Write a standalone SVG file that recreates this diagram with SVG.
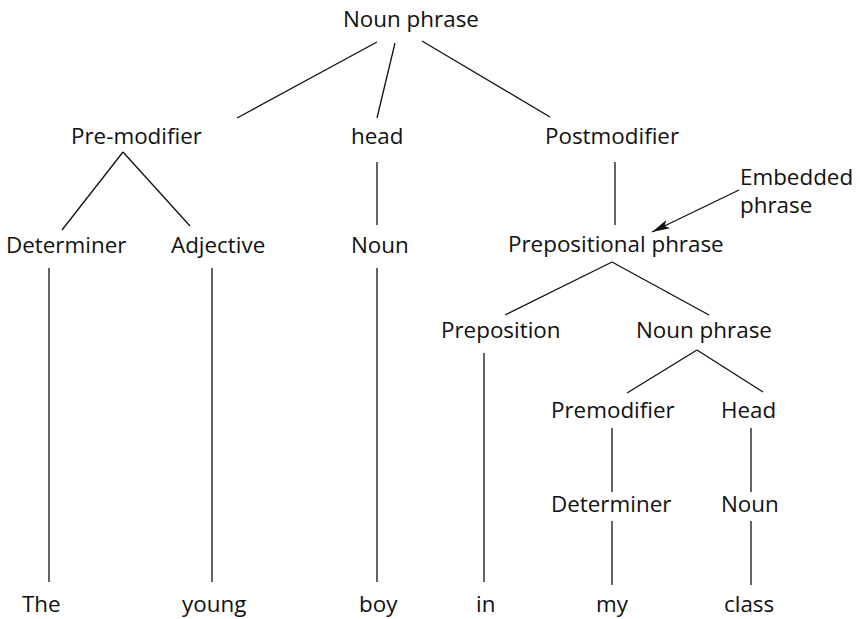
<svg xmlns="http://www.w3.org/2000/svg" width="860" height="619" viewBox="0 0 860 619">
  <style>
    text { font-family: "Open Sans", "Noto Sans", sans-serif; font-size: 22.4px; fill: #111; }
    .edge { stroke: #111; stroke-width: 1.3; fill: none; }
  </style>
  <defs>
    <marker id="arrowhead" viewBox="0 0 18 9" refX="18" refY="4.5" markerWidth="18" markerHeight="9" markerUnits="userSpaceOnUse" orient="auto">
      <path d="M0,0 L18,4.5 L0,9 L4,4.5 Z" fill="#111"/>
    </marker>
  </defs>
  <rect width="860" height="619" fill="#fff"/>

  <g id="connectors">
    <line class="edge" x1="377" y1="42" x2="237" y2="118"/>
    <line class="edge" x1="395" y1="43" x2="377" y2="118"/>
    <line class="edge" x1="422" y1="41" x2="550" y2="117"/>
    <line class="edge" x1="123" y1="152" x2="62" y2="230"/>
    <line class="edge" x1="123" y1="152" x2="190" y2="226"/>
    <line class="edge" x1="377" y1="162" x2="377" y2="225"/>
    <line class="edge" x1="615" y1="162" x2="615" y2="225"/>
    <line class="edge" x1="49" y1="268" x2="49" y2="582"/>
    <line class="edge" x1="212" y1="268" x2="212" y2="582"/>
    <line class="edge" x1="377" y1="268" x2="377" y2="582"/>
    <line class="edge" x1="612" y1="262" x2="505" y2="315"/>
    <line class="edge" x1="612" y1="262" x2="709" y2="315"/>
    <line class="edge" x1="484" y1="353" x2="484" y2="582"/>
    <line class="edge" x1="697" y1="350" x2="627" y2="393"/>
    <line class="edge" x1="697" y1="350" x2="763" y2="392"/>
    <line class="edge" x1="612" y1="428" x2="612" y2="492"/>
    <line class="edge" x1="751" y1="428" x2="751" y2="492"/>
    <line class="edge" x1="612" y1="521" x2="612" y2="585"/>
    <line class="edge" x1="751" y1="521" x2="751" y2="585"/>
    <line class="edge" x1="739" y1="190" x2="652" y2="232" marker-end="url(#arrowhead)"/>
  </g>

  <g id="np-top"><text x="343" y="27">Noun phrase</text></g>
  <g id="pre-modifier"><text x="71" y="144">Pre-modifier</text></g>
  <g id="head"><text x="351" y="144">head</text></g>
  <g id="postmodifier"><text x="545" y="144">Postmodifier</text></g>
  <g id="embedded-note">
    <text x="740" y="185">Embedded</text>
    <text x="740" y="213">phrase</text>
  </g>
  <g id="determiner-1"><text x="6" y="253">Determiner</text></g>
  <g id="adjective"><text x="171" y="253">Adjective</text></g>
  <g id="noun-1"><text x="351" y="253">Noun</text></g>
  <g id="prepositional-phrase"><text x="508" y="252">Prepositional phrase</text></g>
  <g id="preposition"><text x="441" y="338">Preposition</text></g>
  <g id="np-embedded"><text x="636" y="338">Noun phrase</text></g>
  <g id="premodifier"><text x="551" y="418">Premodifier</text></g>
  <g id="head-2"><text x="721" y="418">Head</text></g>
  <g id="determiner-2"><text x="551" y="512">Determiner</text></g>
  <g id="noun-2"><text x="721" y="512">Noun</text></g>
  <g id="word-the"><text x="22" y="612">The</text></g>
  <g id="word-young"><text x="182" y="612">young</text></g>
  <g id="word-boy"><text x="359" y="612">boy</text></g>
  <g id="word-in"><text x="476" y="612">in</text></g>
  <g id="word-my"><text x="596" y="612">my</text></g>
  <g id="word-class"><text x="724" y="612">class</text></g>
</svg>
